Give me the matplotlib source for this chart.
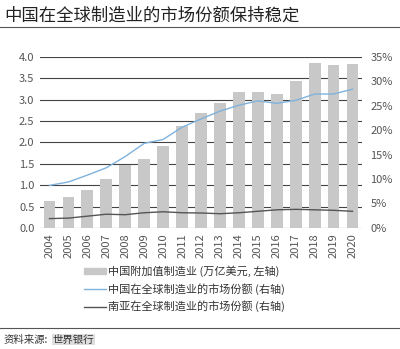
import numpy as np
import matplotlib.pyplot as plt
from matplotlib.lines import Line2D
from matplotlib.patches import Patch

plt.rcParams['font.family'] = ['Noto Sans CJK SC', 'DejaVu Sans']

years = [str(y) for y in range(2004, 2021)]
china_va = [0.62, 0.72, 0.89, 1.14, 1.47, 1.60, 1.91, 2.39, 2.68, 2.92,
            3.17, 3.19, 3.13, 3.43, 3.85, 3.80, 3.84]
china_share = [8.7, 9.4, 10.8, 12.3, 14.6, 17.3, 18.1, 20.6, 22.3, 23.9,
               25.1, 26.0, 25.5, 26.1, 27.4, 27.4, 28.4]
sasia_share = [1.9, 2.0, 2.4, 2.8, 2.7, 3.1, 3.3, 3.1, 3.05, 2.9,
               3.1, 3.4, 3.7, 3.8, 3.7, 3.6, 3.4]

title = "中国在全球制造业的市场份额保持稳定"
legend_labels = ["中国附加值制造业 (万亿美元, 左轴)",
                 "中国在全球制造业的市场份额 (右轴)",
                 "南亚在全球制造业的市场份额 (右轴)"]
source = "资料来源:"
source2 = "世界银行"

bar_c = "#c8c8c8"
blue = "#7fb2dc"
dark = "#555555"
txt = "#555555"

fig = plt.figure(figsize=(4.0, 3.49), dpi=100)
ax = fig.add_axes([0.1, 0.347, 0.805, 0.49])
x = np.arange(len(years))

for v in np.arange(0, 4.01, 0.5):
    ax.axhline(v, color="#444444", lw=0.8, zorder=1)
ax.bar(x, china_va, width=0.62, color=bar_c, zorder=2)
ax.set_xlim(-0.5, len(years) - 0.5)
ax.set_ylim(0, 4.0)
ax.set_yticks(np.arange(0, 4.01, 0.5))
ax.set_yticklabels([f"{v:.1f}" for v in np.arange(0, 4.01, 0.5)])
ax.set_xticks(x)
ax.set_xticklabels(years, rotation=90)
ax.tick_params(length=0, labelsize=8, colors=txt, pad=4)
for s in ax.spines.values():
    s.set_visible(False)

ax2 = ax.twinx()
ax2.plot(x, np.array(china_share) / 100, color=blue, lw=1.0, zorder=3)
ax2.plot(x, np.array(sasia_share) / 100, color=dark, lw=1.0, zorder=3)
ax2.set_ylim(0, 0.35)
ax2.set_yticks(np.arange(0, 0.351, 0.05))
ax2.set_yticklabels([f"{int(round(v*100))}%" for v in np.arange(0, 0.351, 0.05)])
ax2.tick_params(length=0, labelsize=8, colors=txt, pad=6)
for s in ax2.spines.values():
    s.set_visible(False)

handles = [Patch(color=bar_c), Line2D([], [], color=blue, lw=1.0),
           Line2D([], [], color=dark, lw=1.0)]
fig.legend(handles, legend_labels, loc="upper left", bbox_to_anchor=(0.21, 0.24),
           frameon=False, fontsize=8, labelcolor="#333333", handlelength=2.0,
           handleheight=0.5, handletextpad=0.2, labelspacing=0.55,
           borderpad=0, borderaxespad=0)

fig.text(0.01, 0.955, title, fontsize=12.5, color="#222222", va="center")
fig.add_artist(Line2D([0, 1], [0.922, 0.922], color="#555555", lw=0.8))
fig.add_artist(Line2D([0, 1], [0.06, 0.06], color="#555555", lw=0.8))
fig.text(0.01, 0.027, source, fontsize=7.5, color="#333333", va="center")
fig.text(0.132, 0.027, source2, fontsize=7.5, color="#333333", va="center",
         bbox=dict(facecolor="#dddddd", edgecolor="none", pad=0.5))

fig.savefig("out.png", dpi=100)
